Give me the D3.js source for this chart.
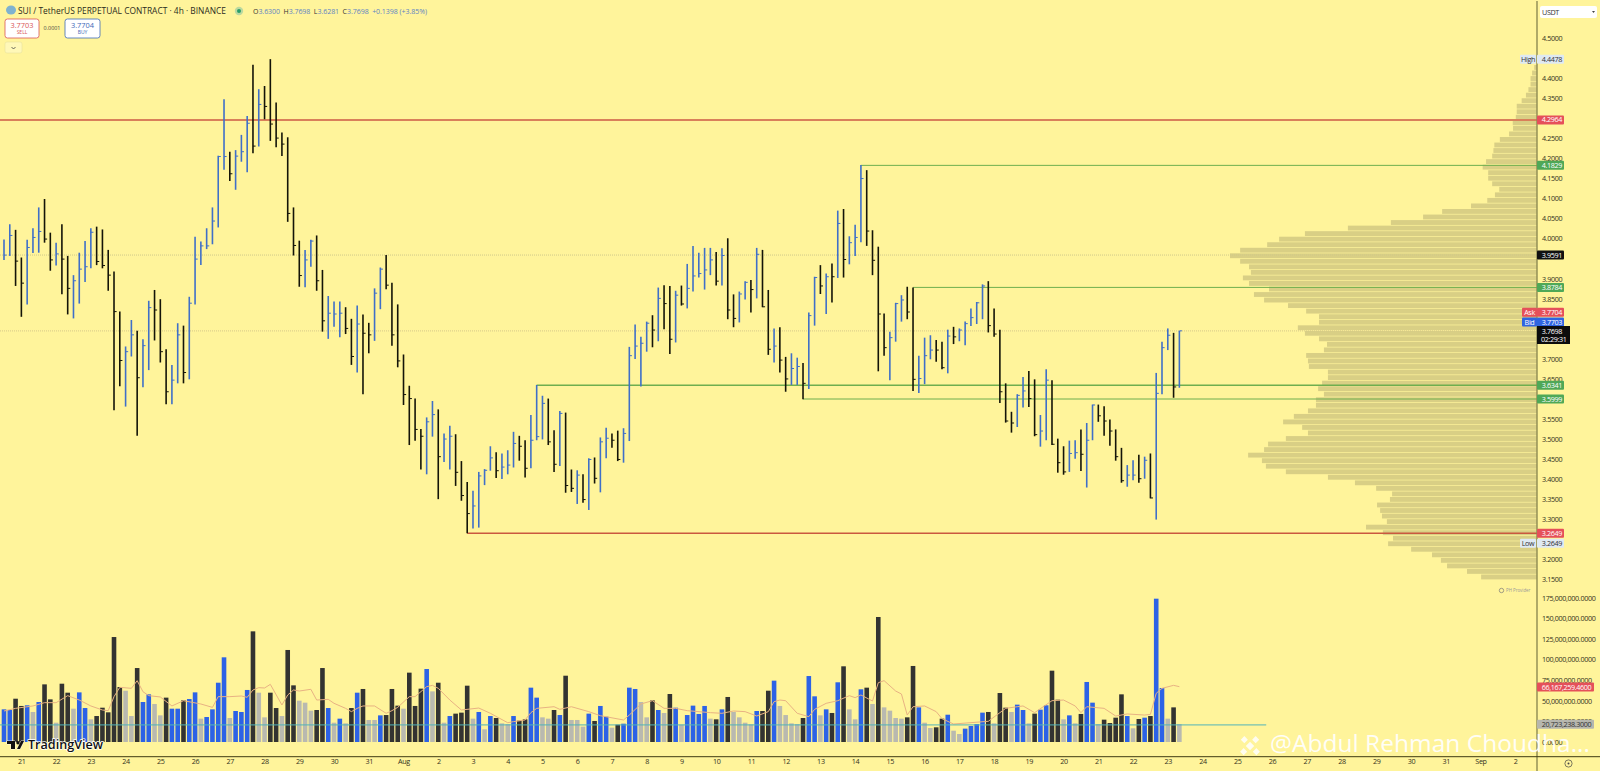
<!DOCTYPE html>
<html>
<head>
<meta charset="utf-8">
<title>SUI / TetherUS 4h</title>
<script src="https://cdn.jsdelivr.net/npm/d3@7"></script>
<style>
  html, body { margin: 0; padding: 0; background: #fff49b; overflow: hidden; }
  text { font-family: "Open Sans", sans-serif; }
  .axis text, .tag { font-size: 7.2px; letter-spacing: -0.35px; font-family: "Open Sans", sans-serif; }
  .axis text { fill: #33321c; }
  .axis .domain { display: none; }
</style>
</head>
<body>
<div id="chart"></div>
<script>
// bars, one entry per 4h bar
const barHigh = [
  3.998,4.036,4.022,3.953,3.997,4.026,4.078,4.099,4.015,3.990,
  4.036,3.957,3.909,3.965,3.994,4.026,4.030,4.023,3.972,3.918,
  3.818,3.731,3.797,3.770,3.749,3.845,3.872,3.849,3.724,3.685,
  3.789,3.783,3.855,4.005,3.993,4.026,4.078,4.207,4.348,4.217,
  4.221,4.259,4.306,4.434,4.373,4.381,4.448,4.340,4.265,4.253,
  4.078,3.995,3.972,3.997,4.008,3.922,3.857,3.843,3.843,3.829,
  3.800,3.833,3.811,3.790,3.876,3.928,3.959,3.890,3.836,3.711,
  3.633,3.601,3.525,3.554,3.595,3.574,3.514,3.533,3.512,3.445,
  3.393,3.371,3.418,3.425,3.482,3.467,3.464,3.472,3.518,3.508,
  3.497,3.560,3.635,3.608,3.601,3.522,3.570,3.566,3.424,3.422,
  3.412,3.452,3.454,3.504,3.528,3.514,3.521,3.527,3.730,3.786,
  3.755,3.793,3.809,3.878,3.884,3.882,3.870,3.883,3.937,3.982,
  3.965,3.977,3.977,3.967,3.976,4.001,3.861,3.868,3.894,3.897,
  3.977,3.972,3.872,3.776,3.779,3.705,3.714,3.703,3.690,3.816,
  3.905,3.934,3.913,3.938,4.070,4.074,4.006,4.035,4.184,4.171,
  4.021,3.980,3.813,3.768,3.840,3.859,3.880,3.878,3.708,3.753,
  3.759,3.747,3.743,3.773,3.780,3.776,3.793,3.826,3.842,3.886,
  3.894,3.826,3.773,3.639,3.568,3.612,3.655,3.670,3.649,3.560,
  3.674,3.647,3.501,3.482,3.496,3.497,3.524,3.540,3.586,3.586,
  3.582,3.549,3.524,3.478,3.435,3.447,3.461,3.456,3.464,3.665,
  3.743,3.776,3.765,3.770
];
const barLow = [
  3.947,3.957,3.882,3.805,3.836,3.964,3.965,3.990,3.920,3.933,
  3.861,3.811,3.801,3.838,3.892,3.926,3.934,3.926,3.870,3.572,
  3.632,3.581,3.706,3.508,3.629,3.672,3.746,3.691,3.587,3.587,
  3.639,3.639,3.649,3.836,3.934,3.974,3.986,4.028,4.172,4.144,
  4.122,4.192,4.166,4.213,4.230,4.298,4.244,4.228,4.206,4.042,
  3.958,3.880,3.879,3.930,3.870,3.768,3.750,3.780,3.754,3.762,
  3.685,3.666,3.612,3.714,3.745,3.824,3.874,3.733,3.679,3.585,
  3.485,3.496,3.424,3.412,3.506,3.350,3.443,3.424,3.383,3.346,
  3.265,3.277,3.279,3.385,3.421,3.403,3.400,3.412,3.429,3.446,
  3.404,3.427,3.497,3.499,3.485,3.418,3.433,3.366,3.368,3.338,
  3.341,3.323,3.389,3.367,3.452,3.478,3.445,3.441,3.495,3.700,
  3.631,3.718,3.729,3.744,3.774,3.712,3.741,3.833,3.826,3.868,
  3.903,3.873,3.909,3.883,3.883,3.799,3.779,3.791,3.848,3.816,
  3.851,3.829,3.710,3.691,3.666,3.618,3.635,3.635,3.599,3.625,
  3.783,3.862,3.812,3.841,3.902,3.903,3.936,3.957,3.991,3.982,
  3.909,3.669,3.708,3.647,3.743,3.793,3.799,3.620,3.615,3.637,
  3.699,3.693,3.674,3.664,3.737,3.744,3.734,3.782,3.787,3.799,
  3.766,3.755,3.590,3.541,3.516,3.530,3.579,3.580,3.507,3.481,
  3.497,3.485,3.416,3.411,3.418,3.451,3.420,3.379,3.497,3.543,
  3.508,3.483,3.446,3.391,3.381,3.397,3.391,3.401,3.352,3.299,
  3.612,3.722,3.603,3.628
];
const barClose = [
  3.959,4.008,3.944,3.889,3.978,4.003,4.018,3.999,3.947,3.962,
  3.949,3.876,3.895,3.924,3.930,4.016,3.943,3.933,3.909,3.818,
  3.696,3.718,3.760,3.653,3.733,3.828,3.822,3.718,3.618,3.647,
  3.760,3.666,3.839,3.949,3.982,3.982,4.044,4.205,4.205,4.162,
  4.206,4.217,4.288,4.231,4.335,4.330,4.286,4.251,4.236,4.063,
  3.983,3.908,3.947,3.994,3.895,3.795,3.814,3.812,3.814,3.776,
  3.706,3.787,3.764,3.760,3.864,3.924,3.884,3.760,3.695,3.611,
  3.601,3.524,3.507,3.543,3.561,3.456,3.500,3.507,3.417,3.359,
  3.314,3.333,3.408,3.422,3.453,3.421,3.430,3.435,3.489,3.482,
  3.427,3.497,3.506,3.589,3.493,3.437,3.564,3.384,3.377,3.410,
  3.349,3.449,3.402,3.493,3.502,3.497,3.449,3.514,3.708,3.732,
  3.739,3.789,3.772,3.851,3.838,3.749,3.859,3.837,3.876,3.907,
  3.913,3.922,3.947,3.894,3.958,3.822,3.801,3.862,3.891,3.873,
  3.961,3.830,3.724,3.732,3.697,3.650,3.676,3.681,3.639,3.808,
  3.903,3.882,3.905,3.905,4.038,3.948,3.990,4.003,4.150,4.019,
  3.946,3.812,3.728,3.753,3.838,3.847,3.817,3.649,3.651,3.708,
  3.722,3.722,3.678,3.757,3.755,3.772,3.788,3.803,3.840,3.882,
  3.783,3.762,3.618,3.545,3.540,3.609,3.620,3.601,3.511,3.520,
  3.647,3.487,3.441,3.418,3.464,3.466,3.462,3.497,3.585,3.558,
  3.545,3.520,3.456,3.396,3.410,3.410,3.401,3.447,3.353,3.614,
  3.728,3.759,3.630,3.770
];
// u = up (blue), d = down (black)
const barDirs = [
  "uudduuuddu","dduuuudddd","duuduudddu","uduuuuuuud","uuududdddd",
  "dduudduuud","duddu udddd".replace(" ", ""),"ddduuduudd","duuuuduuud","duuudduddu",
  "duduudduuu","uududduduu","uuududduud","uddudduudu","udududuuud",
  "ddduuudduu","udduduuuuu","ddddduuddu","uddduuduud","dddduududu","uudu"
].join("").split("");

// volume in millions, k = down, b = up, g = grey (quiet bar)
const volValues = [
  39.6,38.8,52.5,43.7,44.5,36.4,48.5,69.9,51.7,23.4,
  70.7,59.8,40.4,60.2,41.2,27.5,31.5,41.6,36.0,127.3,
  66.7,62.2,31.5,89.7,48.5,57.8,46.1,32.3,53.8,40.4,
  40.4,50.5,52.1,60.2,28.3,30.3,39.6,71.9,102.7,29.1,
  37.6,36.4,63.1,134.2,59.8,29.9,59.8,41.2,31.5,111.6,
  68.7,50.1,47.7,38.0,38.8,89.7,41.2,23.4,28.3,22.6,
  41.2,59.8,64.3,26.7,26.7,32.3,32.7,64.3,44.1,40.4,
  84.1,43.7,64.7,88.5,61.4,71.9,23.4,31.5,34.4,35.6,
  68.3,28.3,36.4,15.4,31.5,29.1,22.6,21.8,31.5,25.9,
  27.5,65.9,53.8,29.9,28.3,38.8,32.7,80.4,26.7,26.7,
  18.6,34.4,25.5,43.7,30.7,17.4,21.0,22.2,65.9,64.3,
  48.5,29.9,50.5,38.8,35.2,58.2,41.6,21.0,32.7,44.1,
  34.0,43.7,28.3,27.5,39.6,54.6,36.4,29.9,23.4,21.4,
  37.6,37.6,62.2,74.4,43.7,32.7,22.6,21.8,29.1,80.0,
  55.4,32.3,39.6,35.2,72.4,91.8,39.6,27.5,63.9,65.9,
  46.1,151.6,42.0,38.0,29.1,28.3,29.9,92.2,42.0,23.4,
  17.0,17.8,28.3,33.1,13.7,9.7,16.2,19.4,21.8,35.6,
  36.4,22.6,59.4,41.6,36.4,45.3,38.8,22.6,34.4,39.2,
  44.5,86.5,51.3,27.5,32.3,22.6,34.0,72.8,47.7,21.8,
  27.1,23.0,29.5,57.8,31.5,16.6,27.9,29.5,31.5,173.8,
  65.5,28.3,42.0,21.8
];
const volKinds = (
  "bbkkbgbkkg" + "kkgbbgkkkk" + "kggkbbggkb" + "bkbbgbbbbg" +
  "bbbkggkkgk" + "kgggkkbgbg" + "kbkggbkkkg" + "kkkbgkgbkk" +
  "kgbgbkggbk" + "kbbggkbkgg" + "gbkbbgkbbb" + "ggkbgkbgbb" +
  "bbgkbkgggg" + "bkkbggggkb" + "bgbkbkggbk" + "gkggggkkbg" +
  "gkkbggbbbb" + "kgkkgbbgkb" + "bkkgbgkbbg" + "kkkkbgkbkb" + "bgkg"
).split("");

// volume moving average, read at the bars where it turns
const maIndex = [0,2,5,7,9,11,13,15,17,18,19,20,22,23,24,25,27,29,31,34,36,37,39,41,42,43,44,45,46,48,49,50,51,53,54,56,57,59,60,61,62,64,66,67,68,
  70,71,73,74,75,77,79,82,84,87,88,90,91,92,95,96,98,101,103,107,108,110,112,114,116,118,122,124,126,128,130,132,133,134,135,137,
  139,140,142,144,146,147,148,150,151,152,154,155,156,157,159,161,162,164,170,172,173,175,176,178,181,183,185,186,187,190,192,194,197,198,199,200,202,203];
const maValues = [37.6,40.8,43.7,47.7,47.7,56.2,50.9,43.7,38.8,38.0,55.0,66.3,65.1,74.4,61.0,56.2,54.6,43.7,50.1,46.1,42.0,55.0,55.0,55.8,54.2,63.1,65.9,65.5,69.9,44.9,57.0,63.1,61.8,63.9,50.9,51.7,46.9,40.8,36.8,40.8,43.7,43.7,34.8,38.0,42.0,
  55.0,55.0,67.1,68.7,65.1,50.9,38.8,41.2,34.8,23.4,24.7,26.7,35.6,40.8,42.8,39.6,42.8,36.8,31.9,26.7,32.7,46.1,50.1,40.8,40.8,38.0,35.6,34.8,37.6,36.8,31.5,36.8,48.9,50.9,50.1,34.8,
  30.7,39.6,46.9,50.1,56.2,53.8,57.0,49.7,71.9,74.4,61.8,58.2,32.7,42.8,43.7,36.8,28.3,21.8,25.1,35.6,40.8,42.8,43.7,35.6,50.1,50.9,43.7,35.6,42.8,40.8,31.5,34.0,32.7,33.5,59.0,65.1,68.7,67.1];
const volLevel = 20.723238;

// volume profile rows from the top of the range, relative to the widest row = 100
const profileTop = 4.4333;
const profileStep = 0.01382;
const profileVol = [
  0.9,1.6,2.1,2.1,2.8,3.6,5.0,6.6,6.6,6.9,7.9,7.8,9.1,12.1,13.9,14.2,14.6,16.6,17.7,15.9,
  15.9,14.6,12.3,13.7,16.2,21.5,30.9,37.1,47.6,61.6,75.6,84.0,87.9,96.7,100,96.7,93.8,93.2,95.8,93.8,
  87.3,92.2,88.9,81.1,75.2,71.0,71.0,77.9,75.6,71.0,68.4,69.4,75.2,74.6,74.3,68.1,68.1,70.0,71.3,69.4,
  72.0,72.0,74.6,79.2,82.7,76.5,74.6,81.8,87.6,88.9,94.1,89.6,88.3,81.8,68.1,59.3,52.4,47.2,47.9,52.1,
  51.1,50.5,48.9,55.7,50.2,46.9,48.5,41.0,34.2,31.3,29.3,22.8,18.2
];

const priceTicks = [4.5,4.4,4.35,4.25,4.2,4.15,4.1,4.05,4,3.9,3.85,3.7,3.65,3.55,3.5,3.45,3.4,3.35,3.3,3.2,3.15];
const volTicks = [175,150,125,100,75,50,25,0];
const dayLabels = ["21","22","23","24","25","26","27","28","29","30","31","Aug","2","3","4","5","6","7","8","9","10","11","12","13","14","15","16","17","18","19","20","21","22","23","24","25","26","27","28","29","30","31","Sep","2"];

// price, bar the line starts at, colours
const levelPrices = [4.2964, 4.1829, 3.8784, 3.6341, 3.5999, 3.2649];
const levelStarts = [-1, 148, 157, 92, 138, 80];
const levelColors = ["#d9805a", "#6fae4f", "#6fae4f", "#6fae4f", "#6fae4f", "#c9583f"];
const levelWidths = [2, 1, 1, 1.4, 1, 1.5];
const levelTags = ["#e5505a", "#4fa857", "#4fa857", "#4fa857", "#4fa857", "#e5505a"];
const pocPrice = 3.9591;
const lastPrice = 3.7698;

const width = 1600, height = 771;
const axisX = 1537;

const x = d3.scaleLinear().domain([0, 1]).range([4, 9.79]);
const y = d3.scaleLinear().domain([4.5, 3.15]).range([38.3, 579.3]);
const yVol = d3.scaleLinear().domain([0, 175]).range([742, 597.7]);
const xProfile = d3.scaleLinear().domain([0, 100]).range([axisX, 1230]);

const svg = d3.select("#chart").append("svg")
  .attr("width", width).attr("height", height)
  .style("display", "block");

svg.append("rect").attr("width", width).attr("height", height).attr("fill", "#fff49b");

//-------------------------VOLUME PROFILE-------------------------
svg.append("g").selectAll("rect")
  .data(profileVol)
  .join("rect")
  .attr("x", d => xProfile(d))
  .attr("y", (d, i) => y(profileTop - i * profileStep))
  .attr("width", d => axisX - xProfile(d))
  .attr("height", y(0) - y(profileStep) - 0.7)
  .attr("fill", "#d9cf85");

//-------------------------LEVELS-------------------------
function dotted(price, color) {
  svg.append("line")
    .attr("x1", 0).attr("x2", axisX)
    .attr("y1", y(price)).attr("y2", y(price))
    .attr("stroke", color).attr("stroke-width", 1)
    .attr("stroke-dasharray", "1 1");
}
dotted(pocPrice, "#cfc88a");
dotted(lastPrice, "#d6c88a");

svg.append("g").selectAll("line")
  .data(levelPrices)
  .join("line")
  .attr("x1", (d, i) => Math.max(0, x(levelStarts[i])))
  .attr("x2", axisX)
  .attr("y1", d => y(d)).attr("y2", d => y(d))
  .attr("stroke", (d, i) => levelColors[i])
  .attr("stroke-width", (d, i) => levelWidths[i]);

//-------------------------PRICE BARS-------------------------
const barColor = { u: "#3f6fc8", d: "#141408" };
const bars = svg.append("g").selectAll("g")
  .data(barHigh)
  .join("g")
  .attr("stroke", (d, i) => barColor[barDirs[i]]);
bars.append("line")
  .attr("x1", (d, i) => x(i)).attr("x2", (d, i) => x(i))
  .attr("y1", d => y(d))
  .attr("y2", (d, i) => y(barLow[i]))
  .attr("stroke-width", 1.6);
bars.append("line")
  .attr("x1", (d, i) => x(i)).attr("x2", (d, i) => x(i) + 2.6)
  .attr("y1", (d, i) => y(barClose[i]))
  .attr("y2", (d, i) => y(barClose[i]))
  .attr("stroke-width", 1);

//-------------------------VOLUME-------------------------
const volColor = { k: "#333331", b: "#2c62e6", g: "#b9b9b0" };
svg.append("g").selectAll("rect")
  .data(volValues)
  .join("rect")
  .attr("x", (d, i) => x(i) - 2.3)
  .attr("y", d => yVol(d))
  .attr("width", 4.6)
  .attr("height", d => yVol(0) - yVol(d))
  .attr("fill", (d, i) => volColor[volKinds[i]]);

const maLine = d3.line().x(d => x(d)).y((d, i) => yVol(maValues[i]));
svg.append("path")
  .attr("d", maLine(maIndex))
  .attr("fill", "none")
  .attr("stroke", "#e8b283")
  .attr("stroke-width", 1);

svg.append("line")
  .attr("x1", 0).attr("x2", x(218))
  .attr("y1", yVol(volLevel)).attr("y2", yVol(volLevel))
  .attr("stroke", "#52b3b8").attr("stroke-width", 1);

//-------------------------AXES-------------------------
svg.append("g").attr("class", "axis")
  .attr("transform", `translate(${axisX + 1},0)`)
  .call(d3.axisRight(y).tickValues(priceTicks).tickSize(0).tickPadding(4).tickFormat(d3.format(".4f")));

svg.append("g").attr("class", "axis")
  .attr("transform", `translate(${axisX + 1},0)`)
  .call(d3.axisRight(yVol).tickValues(volTicks).tickSize(0).tickPadding(4)
    .tickFormat(d => d3.format(",.4f")(d * 1e6)));

svg.append("g").attr("class", "axis")
  .attr("transform", "translate(0,757)")
  .call(d3.axisBottom(x)
    .tickValues(dayLabels.map((d, i) => 3 + i * 6))
    .tickSize(0).tickPadding(2)
    .tickFormat((d, i) => dayLabels[i]));

svg.append("line").attr("x1", axisX).attr("x2", axisX).attr("y1", 1).attr("y2", height)
  .attr("stroke", "#8e8a52").attr("stroke-width", 1.4);
svg.append("line").attr("x1", 0).attr("x2", width).attr("y1", 756.7).attr("y2", 756.7)
  .attr("stroke", "#3f3b12").attr("stroke-width", 1);

//-------------------------AXIS TAGS-------------------------
function tag(cy, txt, bg, fg, w, bx) {
  const left = bx === undefined ? axisX : bx;
  const boxW = w || 27;
  svg.append("rect").attr("x", left).attr("y", cy - 4.5).attr("width", boxW).attr("height", 9)
    .attr("rx", 1).attr("fill", bg);
  svg.append("text").attr("class", "tag")
    .attr("x", bx === undefined ? left + 4.7 : left + boxW / 2)
    .attr("y", cy + 2.6)
    .attr("text-anchor", bx === undefined ? "start" : "middle")
    .attr("fill", fg).text(txt);
}
levelPrices.forEach((p, i) => tag(y(p), d3.format(".4f")(p), levelTags[i], "#fff"));
tag(y(pocPrice), d3.format(".4f")(pocPrice), "#111", "#fff");
tag(59.3, "4.4478", "#dfe9f2", "#333");
tag(59.3, "High", "#dfe9f2", "#333", 16, 1520);
tag(543.3, "3.2649", "#dfe9f2", "#333");
tag(543.3, "Low", "#dfe9f2", "#333", 16, 1520);
tag(312.3, "3.7704", "#e5505a", "#fff");
tag(312.3, "Ask", "#e5505a", "#fff", 15, 1522);
tag(322, "3.7703", "#2f64e0", "#fff");
tag(322, "Bid", "#2f64e0", "#fff", 15, 1522);

svg.append("rect").attr("x", axisX).attr("y", 326).attr("width", 33).attr("height", 18).attr("fill", "#0c0c0c");
svg.append("text").attr("class", "tag").attr("x", axisX + 4.7).attr("y", 334).attr("fill", "#fff").text("3.7698");
svg.append("text").attr("class", "tag").attr("x", axisX + 4).attr("y", 341.6).attr("fill", "#fff").text("02:29:31");

tag(687, "66,167,259.4600", "#e5505a", "#fff", 57);
tag(724.3, "20,723,238.3000", "#b6b6ae", "#333", 57);

// USDT box
svg.append("rect").attr("x", 1540).attr("y", 6).attr("width", 57).attr("height", 12).attr("rx", 2).attr("fill", "#fff");
svg.append("text").attr("class", "tag").attr("x", 1542).attr("y", 14.5).attr("fill", "#333").text("USDT");
svg.append("path").attr("d", "M1592 11l3 0l-1.5 2z").attr("fill", "#444");

svg.append("circle").attr("cx", 1568.5).attr("cy", 763.5).attr("r", 3.6).attr("fill", "none").attr("stroke", "#444").attr("stroke-width", 0.7);
svg.append("circle").attr("cx", 1568.5).attr("cy", 763.5).attr("r", 1).attr("fill", "#444");

svg.append("circle").attr("cx", 1501.5).attr("cy", 590.5).attr("r", 2.2).attr("fill", "none").attr("stroke", "#777").attr("stroke-width", 0.7);
svg.append("text").attr("x", 1506).attr("y", 592).attr("font-size", 4.4).attr("fill", "#999").text("PH Provider");

//-------------------------LEGEND-------------------------
svg.append("ellipse").attr("cx", 11).attr("cy", 10).attr("rx", 5).attr("ry", 4.5).attr("fill", "#7fb2cf");
svg.append("text").attr("x", 18).attr("y", 14).attr("font-size", 9.4)
  .attr("textLength", 208).attr("lengthAdjust", "spacingAndGlyphs").attr("fill", "#2b2b20")
  .text("SUI / TetherUS PERPETUAL CONTRACT · 4h · BINANCE");
svg.append("circle").attr("cx", 239).attr("cy", 11).attr("r", 4.2).attr("fill", "#bcd9a0");
svg.append("circle").attr("cx", 239).attr("cy", 11).attr("r", 2).attr("fill", "#2a9d6a");

const ohlc = [["O", "3.6300"], ["H", "3.7698"], ["L", "3.6281"], ["C", "3.7698"]];
const legend = svg.append("text").attr("x", 253).attr("y", 13.6).attr("font-size", 7)
  .attr("textLength", 174).attr("xml:space", "preserve");
ohlc.forEach(d => {
  legend.append("tspan").attr("fill", "#333").text(d[0]);
  legend.append("tspan").attr("fill", "#5d83c4").text(d[1] + "  ");
});
legend.append("tspan").attr("fill", "#5d83c4").text("+0.1398 (+3.85%)");

function tradeBox(bx, w, price, word, color) {
  svg.append("rect").attr("x", bx).attr("y", 19).attr("width", w).attr("height", 19).attr("rx", 2.5)
    .attr("fill", "#fff").attr("stroke", color).attr("stroke-width", 0.8);
  svg.append("text").attr("x", bx + w / 2).attr("y", 27.5).attr("text-anchor", "middle")
    .attr("font-size", 7.4).attr("fill", color).text(price);
  svg.append("text").attr("x", bx + w / 2).attr("y", 34.3).attr("text-anchor", "middle")
    .attr("font-size", 5).attr("fill", color).text(word);
}
tradeBox(5, 34, "3.7703", "SELL", "#d95555");
tradeBox(65, 35, "3.7704", "BUY", "#3d69b8");
svg.append("text").attr("x", 52).attr("y", 30).attr("text-anchor", "middle").attr("font-size", 5.4).attr("fill", "#444").text("0.0001");
svg.append("rect").attr("x", 5).attr("y", 42).attr("width", 17).attr("height", 11).attr("rx", 2)
  .attr("fill", "#fff8b8").attr("stroke", "#e8e0a0").attr("stroke-width", 0.6);
svg.append("path").attr("d", "M11.5 47l2 2l2 -2").attr("fill", "none").attr("stroke", "#444").attr("stroke-width", 0.8);

//-------------------------LOGO AND WATERMARK-------------------------
const tv = svg.append("g").attr("transform", "translate(7,741)");
tv.append("path")
  .attr("d", "M0 0H8V8H4V3H0Z M14 0H17L13 8H10Z")
  .attr("fill", "#111").attr("stroke", "#fff").attr("stroke-width", 0.8).attr("paint-order", "stroke");
tv.append("circle").attr("cx", 11).attr("cy", 1.8).attr("r", 1.7).attr("fill", "#111");
svg.append("text").attr("x", 28).attr("y", 749).attr("font-size", 12.6).attr("font-weight", 600)
  .attr("fill", "#111").attr("stroke", "#fff").attr("stroke-width", 1.4).attr("paint-order", "stroke")
  .text("TradingView");

const mark = svg.append("g").attr("transform", "translate(1250,746) rotate(45)").attr("fill", "#fff").attr("opacity", 0.85);
[[-3,-3,6],[-11,-3,5],[6,-3,5],[-3,-11,5],[-3,6,5]].forEach(r => {
  mark.append("rect").attr("x", r[0]).attr("y", r[1]).attr("width", r[2]).attr("height", r[2]);
});
svg.append("text").attr("x", 1270).attr("y", 752).attr("font-size", 23).attr("fill", "#fff")
  .attr("textLength", 320).attr("lengthAdjust", "spacingAndGlyphs")
  .attr("opacity", 0.92).text("@Abdul Rehman Choudha...");
</script>
</body>
</html>
